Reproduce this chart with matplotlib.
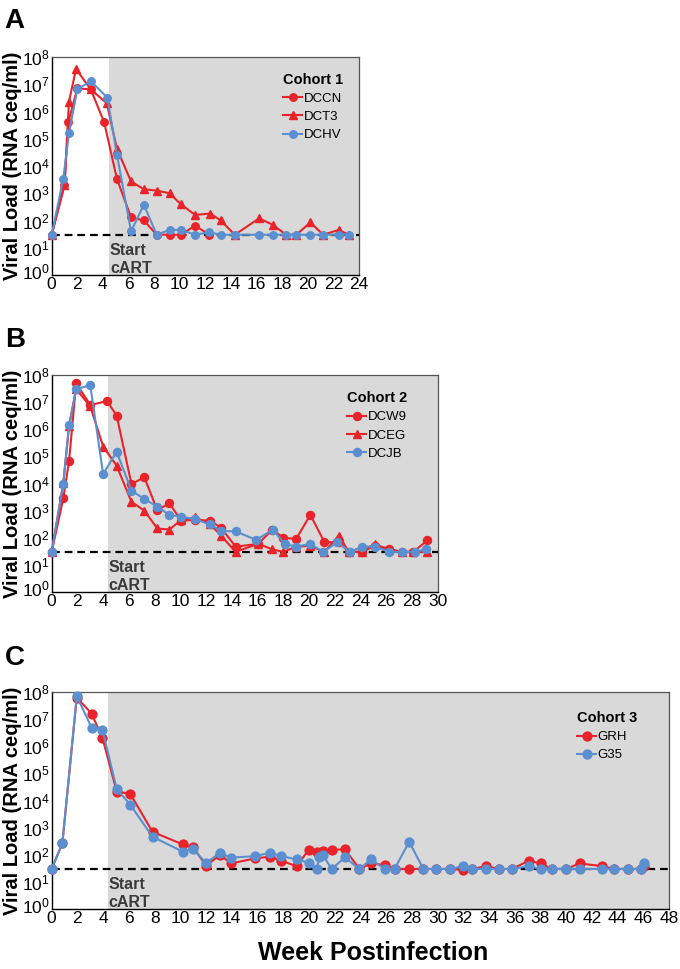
import numpy as np
import matplotlib
matplotlib.use("Agg")
import matplotlib.pyplot as plt
import matplotlib.transforms as mtransforms
from matplotlib.ticker import FixedLocator, FuncFormatter, NullLocator

plt.rcParams["font.family"] = ["Liberation Sans", "DejaVu Sans"]
plt.rcParams["mathtext.fontset"] = "custom"
plt.rcParams["mathtext.rm"] = "Liberation Sans"

# -----------------------------------------------------------------------------
# DATA  (weeks postinfection, viral load RNA ceq/ml)
# -----------------------------------------------------------------------------

# Cohort 1
dccn_wk = [0, 1.0, 1.3, 2.0, 3.05, 4.1, 5.1, 6.2, 7.2, 8.2, 9.2, 10.1, 11.2, 12.3]
dccn_vl = [30, 2000, 4e5, 7e6, 6.5e6, 4e5, 3300, 130, 100, 30, 30, 30, 65, 30]

dct3_wk = [0, 1.0, 1.35, 1.9, 3.05, 4.3, 5.1, 6.2, 7.2, 8.2, 9.2, 10.1, 11.2, 12.4,
           13.2, 14.3, 16.2, 17.3, 18.3, 19.1, 20.2, 21.2, 22.4, 23.2]
dct3_vl = [30, 2000, 2.3e6, 3.6e7, 6.5e6, 2e6, 4.2e4, 2700, 1400, 1250, 1000, 390,
           160, 180, 100, 30, 120, 68, 30, 30, 85, 30, 45, 30]

dchv_wk = [0, 0.9, 1.35, 2.0, 3.05, 4.35, 5.1, 6.2, 7.2, 8.2, 9.2, 10.1, 11.2, 12.3,
           13.2, 14.3, 16.2, 17.3, 18.3, 19.1, 20.2, 21.2, 22.4, 23.2]
dchv_vl = [30, 3300, 1.6e5, 6.5e6, 1.3e7, 3.2e6, 2.5e4, 40, 380, 30, 45, 45, 30, 37,
           30, 30, 30, 30, 30, 30, 30, 30, 30, 30]

# Cohort 2
dcw9_wk = [0, 0.9, 1.35, 1.9, 3.0, 4.3, 5.05, 6.2, 7.2, 8.2, 9.15, 10.05, 11.15, 12.3,
           13.15, 14.3, 16.05, 17.15, 18.0, 19.0, 20.1, 21.2, 22.3, 23.1, 24.1, 25.1,
           26.2, 27.2, 28.1, 29.2]
dcw9_vl = [30, 2800, 6.7e4, 5e7, 7.8e6, 1.1e7, 3.2e6, 9500, 1.7e4, 1050, 1850, 430,
           450, 430, 235, 47, 59, 200, 100, 90, 700, 68, 68, 30, 30, 50, 40, 30, 30, 80]

dceg_wk = [0, 0.9, 1.35, 1.9, 3.0, 4.0, 5.05, 6.2, 7.2, 8.2, 9.15, 10.05, 11.15, 12.3,
           13.15, 14.3, 16.05, 17.15, 18.0, 19.0, 20.1, 21.2, 22.3, 23.1, 24.1, 25.1,
           26.2, 27.2, 28.1, 29.2]
dceg_vl = [30, 1e4, 1.3e6, 3e7, 7e6, 2.3e5, 4.5e4, 2100, 1000, 220, 200, 450, 560,
           320, 120, 30, 60, 37, 30, 47, 50, 30, 120, 30, 30, 60, 35, 30, 30, 30]

dcjb_wk = [0, 0.9, 1.35, 1.9, 3.0, 4.0, 5.05, 6.2, 7.2, 8.2, 9.15, 10.05, 11.15, 12.3,
           13.15, 14.3, 15.9, 17.2, 18.1, 19.0, 20.1, 21.1, 22.2, 23.2, 24.1, 25.1,
           26.2, 27.2, 28.2, 29.1]
dcjb_vl = [30, 9500, 1.4e6, 3e7, 4.2e7, 2.2e4, 1.5e5, 5400, 2700, 1400, 690, 600, 480,
           310, 180, 170, 83, 200, 59, 47, 59, 30, 68, 30, 47, 47, 30, 30, 30, 38]

# Cohort 3
grh_wk = [0, 0.83, 1.95, 3.1, 3.95, 5.06, 6.1, 7.84, 10.2, 10.96, 12.0, 13.1, 13.95,
          15.8, 16.95, 17.87, 19.06, 19.97, 20.6, 21.08, 21.78, 22.8, 23.93, 24.84,
          25.9, 26.66, 27.8, 28.9, 29.9, 31.0, 32.0, 32.7, 33.8, 34.8, 35.8, 37.08,
          38.03, 38.9, 40.0, 41.05, 42.8, 43.76, 44.8, 45.8, 46.05]
grh_vl = [30, 260, 6.2e7, 1.6e7, 2e6, 2.1e4, 1.8e4, 700, 240, 200, 40, 97, 48, 73, 85,
          59, 38, 150, 130, 140, 150, 160, 30, 48, 42, 30, 30, 30, 30, 30, 28, 30, 38,
          30, 30, 60, 48, 30, 30, 48, 38, 30, 30, 30, 38]

g35_wk = [0, 0.83, 1.95, 3.1, 3.95, 5.06, 6.1, 7.84, 10.2, 10.96, 12.0, 13.1, 13.95,
          15.8, 16.95, 17.87, 19.06, 19.97, 20.6, 20.82, 21.08, 21.78, 22.8, 23.93,
          24.84, 25.9, 26.66, 27.8, 28.9, 29.9, 31.0, 32.0, 32.7, 33.8, 34.8, 35.8,
          37.08, 38.03, 38.9, 40.0, 41.05, 42.8, 43.76, 44.8, 45.8, 46.05]
g35_vl = [30, 270, 7e7, 4.9e6, 4.1e6, 2.6e4, 7100, 460, 130, 170, 50, 118, 78, 89,
          118, 89, 67, 51, 30, 80, 97, 30, 80, 30, 67, 30, 30, 300, 30, 30, 30, 38, 30,
          30, 30, 30, 38, 30, 30, 30, 30, 30, 30, 30, 30, 48]

LOD = 30          # limit of detection (dashed line)
CART_START = [4.5, 4.35, 4.35]
X_MAX = [24, 30, 48]

RED = "#e8232a"
BLUE = "#5b8fd0"
GREY_BG = "#d9d9d9"

# -----------------------------------------------------------------------------
# FIGURE
# -----------------------------------------------------------------------------

fig = plt.figure(figsize=(6.8, 9.69), dpi=100)
L = 0.076
axes = [
    fig.add_axes([L, 0.7162, 0.4520, 0.2250]),
    fig.add_axes([L, 0.3891, 0.5677, 0.2239]),
    fig.add_axes([L, 0.0619, 0.9078, 0.2240]),
]

panels = [
    ("Cohort 1", [("DCCN", dccn_wk, dccn_vl, RED, "o"),
                  ("DCT3", dct3_wk, dct3_vl, RED, "^"),
                  ("DCHV", dchv_wk, dchv_vl, BLUE, "o")], (0.753, 0.928), 5.4),
    ("Cohort 2", [("DCW9", dcw9_wk, dcw9_vl, RED, "o"),
                  ("DCEG", dceg_wk, dceg_vl, RED, "^"),
                  ("DCJB", dcjb_wk, dcjb_vl, BLUE, "o")], (0.765, 0.925), 5.8),
    ("Cohort 3", [("GRH", grh_wk, grh_vl, RED, "o"),
                  ("G35", g35_wk, g35_vl, BLUE, "o")], (0.851, 0.912), 6.4),
]

sup = FuncFormatter(lambda v, p: r"$\mathregular{10^{%d}}$" % int(round(np.log10(v))))
nudge_up = mtransforms.ScaledTranslation(0, 3 / 72, fig.dpi_scale_trans)

for i, (ax, (title, series, leg_xy, ms)) in enumerate(zip(axes, panels)):
    xmax = X_MAX[i]
    ax.axvspan(CART_START[i], xmax, color=GREY_BG, zorder=0, lw=0)
    ax.axhline(LOD, color="black", ls=(0, (3.5, 2.2)), lw=1.6, zorder=2)

    for name, wk, vl, col, mk in series:
        ax.plot(wk, vl, color=col, marker=mk, ms=ms if mk == "o" else ms + 0.6,
                lw=1.5, label=name, zorder=3, clip_on=False)

    ax.set_yscale("log")
    ax.set_ylim(1, 1e8)
    ax.set_xlim(0, xmax)
    ax.yaxis.set_major_locator(FixedLocator([10.0 ** k for k in range(9)]))
    ax.yaxis.set_minor_locator(NullLocator())
    ax.yaxis.set_major_formatter(sup)
    ax.set_xticks(np.arange(0, xmax + 1, 2))
    ax.tick_params(axis="y", length=0, pad=1.5, labelsize=12.5)
    ax.tick_params(axis="x", length=0, pad=1.5, labelsize=12.5)

    # lift the 10^0 label a little so it clears the x=0 label
    lab0 = ax.yaxis.get_major_ticks()[0].label1
    lab0.set_transform(lab0.get_transform() + nudge_up)

    for s in ["left", "bottom"]:
        ax.spines[s].set_color("black")
        ax.spines[s].set_linewidth(1.0)
    for s in ["top", "right"]:
        ax.spines[s].set_color("#555555")
        ax.spines[s].set_linewidth(0.9)

    ax.text(CART_START[i] + 0.05, 0.072, "Start\ncART", transform=ax.get_xaxis_transform(),
            ha="left", va="center", fontsize=11.5, fontweight="bold", color="#3a3a3a",
            linespacing=1.3)

    ax.legend(title=title, loc="upper left", bbox_to_anchor=leg_xy,
              frameon=False, fontsize=9.5, handlelength=1.45, handletextpad=0.1,
              labelspacing=0.45, borderpad=0, borderaxespad=0, alignment="left",
              title_fontproperties={"weight": "bold", "size": 10.5})

# panel letters
for letter, y in zip("ABC", [0.9711, 0.6419, 0.3137]):
    fig.text(0.007, y, letter, fontsize=20, fontweight="bold", ha="left", va="baseline")

# y labels
for y in [0.8287, 0.5010, 0.1739]:
    fig.text(0.019, y, "Viral Load (RNA ceq/ml)", rotation=90, ha="center", va="center",
             fontsize=14.5, fontweight="bold")

fig.text(0.548, 0.0093, "Week Postinfection", ha="center", va="baseline",
         fontsize=18, fontweight="bold")

fig.savefig("out.png", dpi=100)
